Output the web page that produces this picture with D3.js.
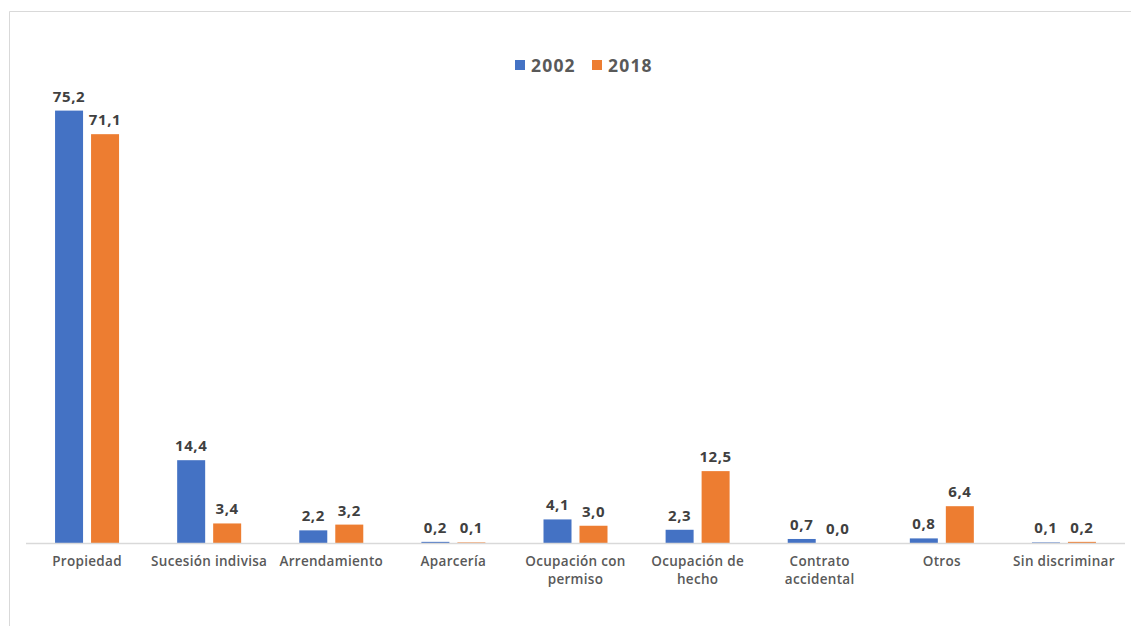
<!DOCTYPE html>
<html>
<head>
<meta charset="utf-8">
<script src="https://cdn.jsdelivr.net/npm/d3@7"></script>
<style>
  html, body { margin: 0; padding: 0; background: #fff; }
  svg { display: block; }
  text { font-family: "Open Sans", "DejaVu Sans", sans-serif; }
</style>
</head>
<body>
<svg id="chart" width="1131" height="626"></svg>
<script>
// Tenencia de la tierra: porcentajes por forma de tenencia
const categories = [
  ["Propiedad"],
  ["Sucesión indivisa"],
  ["Arrendamiento"],
  ["Aparcería"],
  ["Ocupación con", "permiso"],
  ["Ocupación de", "hecho"],
  ["Contrato", "accidental"],
  ["Otros"],
  ["Sin discriminar"]
];
const seriesNames = ["2002", "2018"];
const values2002 = [75.2, 14.4, 2.2, 0.2, 4.1, 2.3, 0.7, 0.8, 0.1];
const values2018 = [71.1, 3.4, 3.2, 0.1, 3.0, 12.5, 0.0, 6.4, 0.2];
const colors = ["#4472C4", "#ED7D31"];

const svg = d3.select("#chart");
const W = 1131, H = 626;

// outer frame
svg.append("path")
  .attr("d", `M9.5,${H} V11.5 H${W}`)
  .attr("fill", "none")
  .attr("stroke", "#d9d9d9")
  .attr("stroke-width", 1);

const left = 26, right = 1125, baseY = 543;
const keys = categories.map((c, i) => i);

const x0 = d3.scaleBand().domain(keys).range([left, right]).paddingInner(0).paddingOuter(0);
const y = d3.scaleLinear().domain([0, 80]).range([baseY, 83]);

const barW = 28, gap = 8;
const seriesData = [values2002, values2018];

const g = svg.append("g");

seriesData.forEach((vals, s) => {
  const offset = s === 0 ? -(gap / 2 + barW) : gap / 2;
  g.selectAll(null)
    .data(vals)
    .join("rect")
    .attr("x", (d, i) => x0(i) + x0.bandwidth() / 2 + offset)
    .attr("y", d => y(d))
    .attr("width", barW)
    .attr("height", d => baseY - y(d))
    .attr("fill", colors[s]);

  g.selectAll(null)
    .data(vals)
    .join("text")
    .attr("x", (d, i) => x0(i) + x0.bandwidth() / 2 + offset + barW / 2)
    .attr("y", d => y(d) - 9)
    .attr("text-anchor", "middle")
    .attr("font-size", 15)
    .attr("font-weight", 700)
    .attr("letter-spacing", 0.6)
    .attr("fill", "#404040")
    .text(d => d.toFixed(1).replace(".", ","));
});

// category axis line
svg.append("line")
  .attr("x1", left).attr("x2", right)
  .attr("y1", baseY + 0.5).attr("y2", baseY + 0.5)
  .attr("stroke", "#d9d9d9").attr("stroke-width", 1.5);

// category labels
const lab = svg.append("g");
categories.forEach((lines, i) => {
  const t = lab.append("text")
    .attr("x", x0(i) + x0.bandwidth() / 2)
    .attr("y", 566)
    .attr("text-anchor", "middle")
    .attr("font-size", 13.5)
    .attr("font-weight", 600)
    .attr("letter-spacing", 0.3)
    .attr("fill", "#595959");
  lines.forEach((ln, k) => {
    t.append("tspan")
      .attr("x", x0(i) + x0.bandwidth() / 2)
      .attr("dy", k === 0 ? 0 : 18)
      .text(ln);
  });
});

// legend
const legend = svg.append("g");
const legendX = [515, 592];
seriesNames.forEach((name, s) => {
  legend.append("rect")
    .attr("x", legendX[s]).attr("y", 60)
    .attr("width", 10).attr("height", 10)
    .attr("fill", colors[s]);
  legend.append("text")
    .attr("x", legendX[s] + 16).attr("y", 72)
    .attr("font-size", 17.5)
    .attr("font-weight", 700)
    .attr("letter-spacing", 1.2)
    .attr("fill", "#595959")
    .text(name);
});
</script>
</body>
</html>
